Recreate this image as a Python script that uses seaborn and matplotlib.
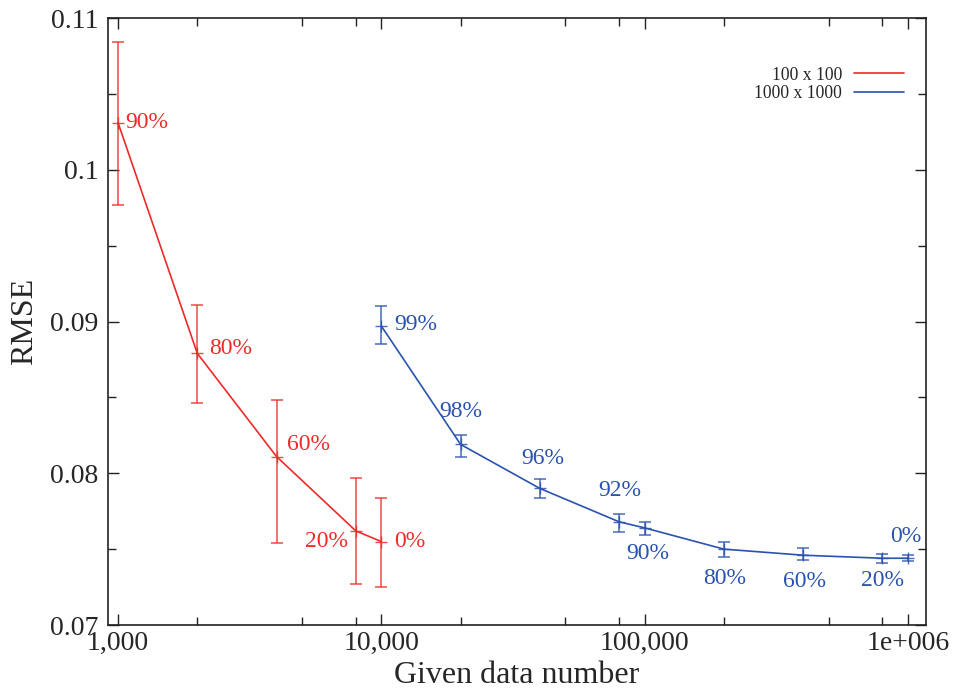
import numpy as np
import pandas as pd
import matplotlib
matplotlib.use('Agg')
from matplotlib import pyplot as plt
from matplotlib import ticker
import seaborn as sns

# 100 x 100 series
small_x = [1000, 2000, 4000, 8000, 10000]
small_rmse = [0.1031, 0.0879, 0.0811, 0.0762, 0.0755]
small_lo = [0.0977, 0.0846, 0.0754, 0.0727, 0.0725]
small_hi = [0.1084, 0.0911, 0.0848, 0.0797, 0.0784]
small_tags = ['90%', '80%', '60%', '20%', '0%']

# 1000 x 1000 series
big_x = [10000, 20000, 40000, 80000, 100000, 200000, 400000, 800000, 1000000]
big_rmse = [0.0897, 0.0819, 0.0790, 0.0768, 0.0764, 0.0750, 0.0746, 0.0744, 0.0744]
big_lo = [0.0885, 0.0811, 0.0784, 0.0761, 0.0759, 0.0745, 0.0743, 0.0741, 0.0742]
big_hi = [0.0910, 0.0825, 0.0796, 0.0773, 0.0768, 0.0755, 0.0751, 0.0747, 0.0746]
big_tags = ['99%', '98%', '96%', '92%', '90%', '80%', '60%', '20%', '0%']

x_ticks = [1000, 10000, 100000, 1000000]
x_ticklabels = ['1,000', '10,000', '100,000', '1e+006']
y_ticks = [0.07, 0.08, 0.09, 0.1, 0.11]
y_ticklabels = ['0.07', '0.08', '0.09', '0.1', '0.11']

sns.set_style('ticks')
plt.rcParams['font.family'] = ['Liberation Serif', 'DejaVu Serif']

red = '#ee2a2a'
blue = '#2a52b0'

df = pd.concat([
    pd.DataFrame({'n': small_x, 'rmse': small_rmse, 'grid': '100 x 100'}),
    pd.DataFrame({'n': big_x, 'rmse': big_rmse, 'grid': '1000 x 1000'}),
])

fig = plt.figure(figsize=(9.54, 6.93), dpi=100)
ax = fig.add_axes([0.1132, 0.0981, 0.8574, 0.8759])

sns.lineplot(data=df, x='n', y='rmse', hue='grid', palette=[red, blue],
             linewidth=1.2, ax=ax, sort=False, estimator=None)

for xs, ys, lo, hi, c in [(small_x, small_rmse, small_lo, small_hi, red),
                          (big_x, big_rmse, big_lo, big_hi, blue)]:
    ys = np.array(ys)
    err = [ys - np.array(lo), np.array(hi) - ys]
    ax.errorbar(xs, ys, yerr=err, fmt='+', color=c, ecolor=c, elinewidth=1.1,
                capsize=4, capthick=1.1, markersize=9, alpha=0.85, zorder=3)

# label offsets in pixels (dx, dy, ha)
small_off = [(7, 0, 'left'), (12, 5, 'left'), (10, 12, 'left'), (-8, -11, 'right'), (13, 0, 'left')]
big_off = [(13, 2, 'left'), (0, 33, 'center'), (3, 30, 'center'), (1, 31, 'center'),
           (3, -26, 'center'), (1, -29, 'center'), (1, -26, 'center'), (0, -22, 'center'),
           (-2, 22, 'center')]

for xs, ys, tags, offs, c in [(small_x, small_rmse, small_tags, small_off, red),
                              (big_x, big_rmse, big_tags, big_off, blue)]:
    for x, y, t, (dx, dy, ha) in zip(xs, ys, tags, offs):
        ax.annotate(t, (x, y), xytext=(dx, dy), textcoords='offset pixels',
                    ha=ha, va='center', color=c, fontsize=17)

ax.set_xscale('log')
ax.set_xlim(916, 1.17e6)
ax.set_ylim(0.07, 0.11)
ax.set_xticks(x_ticks)
ax.set_xticklabels(x_ticklabels)
ax.xaxis.set_minor_locator(ticker.LogLocator(base=10, subs=(2, 5, 8)))
ax.xaxis.set_minor_formatter(ticker.NullFormatter())
ax.set_yticks(y_ticks)
ax.set_yticklabels(y_ticklabels)
ax.yaxis.set_minor_locator(ticker.MultipleLocator(0.005))

ax.tick_params(which='both', direction='in', top=True, right=True,
               labelsize=20, width=1.0, color='#222222')
ax.tick_params(which='major', length=8, pad=4)
ax.tick_params(which='minor', length=6)
ax.tick_params(axis='y', which='major', pad=7)
for s in ax.spines.values():
    s.set_linewidth(1.2)
    s.set_color('#222222')

ax.set_xlabel('Given data number', fontsize=23, labelpad=4)
ax.set_ylabel('RMSE', fontsize=23, labelpad=8)

ax.legend(loc='upper right', bbox_to_anchor=(0.973, 0.92), frameon=False,
          markerfirst=False, fontsize=12.7, handlelength=2.8, handletextpad=0.7,
          labelspacing=0.08, borderpad=0, borderaxespad=0)

fig.savefig('out.png', dpi=100)
